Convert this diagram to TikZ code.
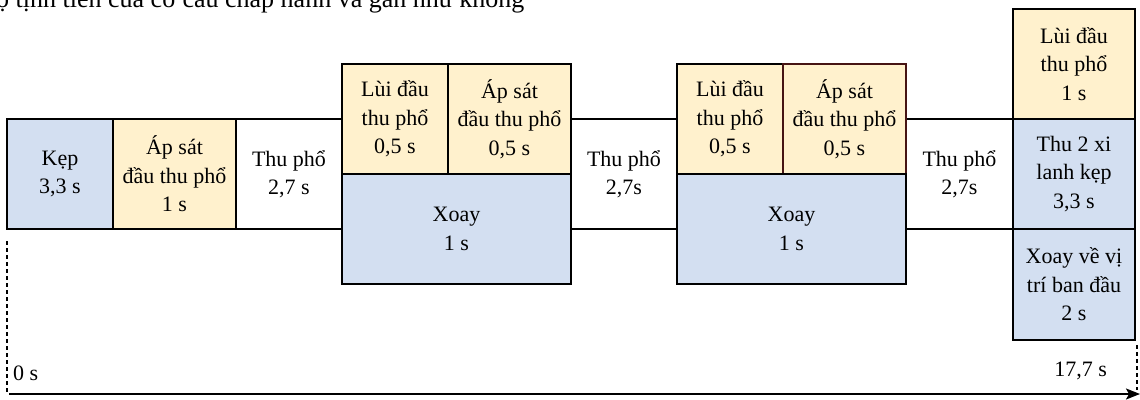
\documentclass[tikz,border=0pt]{standalone}
\usepackage{fontspec}
\setmainfont{Liberation Serif}
\usetikzlibrary{arrows.meta}
\definecolor{bbl}{RGB}{211,223,241}
\definecolor{yel}{RGB}{255,241,205}
\definecolor{dred}{RGB}{70,20,20}
\begin{document}
\begin{tikzpicture}[x=1pt,y=-1pt,
  txt/.style={font=\fontsize{22}{28.5}\selectfont},
  box/.style={txt, draw=black, line width=1.6pt, inner sep=0pt, outer sep=0pt, align=center, anchor=north west},
  bluebox/.style={box, fill=bbl},
  yelbox/.style={box, fill=yel},
  whitebox/.style={box, fill=white},
  dashline/.style={line width=1.5pt, dash pattern=on 4pt off 3pt},
  axis/.style={line width=1.6pt, -{Stealth[length=14pt,width=11pt,inset=3pt]}}]
\useasboundingbox (0,0) rectangle (1140,399);
\clip (0,0) rectangle (1140,399);
\node[font=\fontsize{26}{30}\selectfont, anchor=base west, inner sep=0pt] (top) at (-4,7) {ộ tịnh tiến của cơ cấu chấp hành và gần như không};
% row
\node[whitebox, minimum width=106pt, minimum height=110pt] (tp1) at (236,119) {Thu phổ\\2,7 s};
\node[whitebox, minimum width=106pt, minimum height=110pt] (tp2) at (571,119) {Thu phổ\\2,7s};
\node[whitebox, minimum width=107pt, minimum height=110pt] (tp3) at (906,119) {Thu phổ\\2,7s};
\node[bluebox, minimum width=106pt, minimum height=110pt] (kep) at (7,119) {Kẹp\\3,3 s};
\node[yelbox, minimum width=123pt, minimum height=110pt] (as1) at (113,119) {Áp sát\\đầu thu phổ\\1 s};
\node[yelbox, minimum width=106pt, minimum height=110pt] (lui1) at (342,64) {Lùi đầu\\thu phổ\\0,5 s};
\node[yelbox, minimum width=123pt, minimum height=110pt] (as2) at (448,64) {Áp sát\\đầu thu phổ\\0,5 s};
\node[bluebox, minimum width=229pt, minimum height=110pt] (xo1) at (342,174) {Xoay\\1 s};
\node[yelbox, minimum width=106pt, minimum height=110pt] (lui2) at (677,64) {Lùi đầu\\thu phổ\\0,5 s};
\node[yelbox, draw=dred, minimum width=123pt, minimum height=110pt] (as3) at (783,64) {Áp sát\\đầu thu phổ\\0,5 s};
\node[bluebox, minimum width=229pt, minimum height=110pt] (xo2) at (677,174) {Xoay\\1 s};
\node[yelbox, minimum width=122pt, minimum height=110pt] (lui3) at (1013,9) {Lùi đầu\\thu phổ\\1 s};
\node[bluebox, minimum width=122pt, minimum height=110pt] (thu2) at (1013,119) {Thu 2 xi\\lanh kẹp\\3,3 s};
\node[bluebox, minimum width=122pt, minimum height=111pt] (xv) at (1013,229) {Xoay về vị\\trí ban đầu\\2 s};
% axis
\coordinate (d0t) at (7,241);
\coordinate (d0b) at (7,392);
\coordinate (d1t) at (1137,345);
\coordinate (d1b) at (1137,390);
\coordinate (a0) at (9,394);
\coordinate (a1) at (1140,394);
\draw[dashline] (d0t) -- (d0b);
\draw[dashline] (d1t) -- (d1b);
\draw[axis] (a0) -- (a1);
\node[txt, anchor=base west, inner sep=0pt] (t0) at (13,380) {0 s};
\node[txt, anchor=base east, inner sep=0pt] (t1) at (1107,376) {17,7 s};
\end{tikzpicture}
\end{document}
